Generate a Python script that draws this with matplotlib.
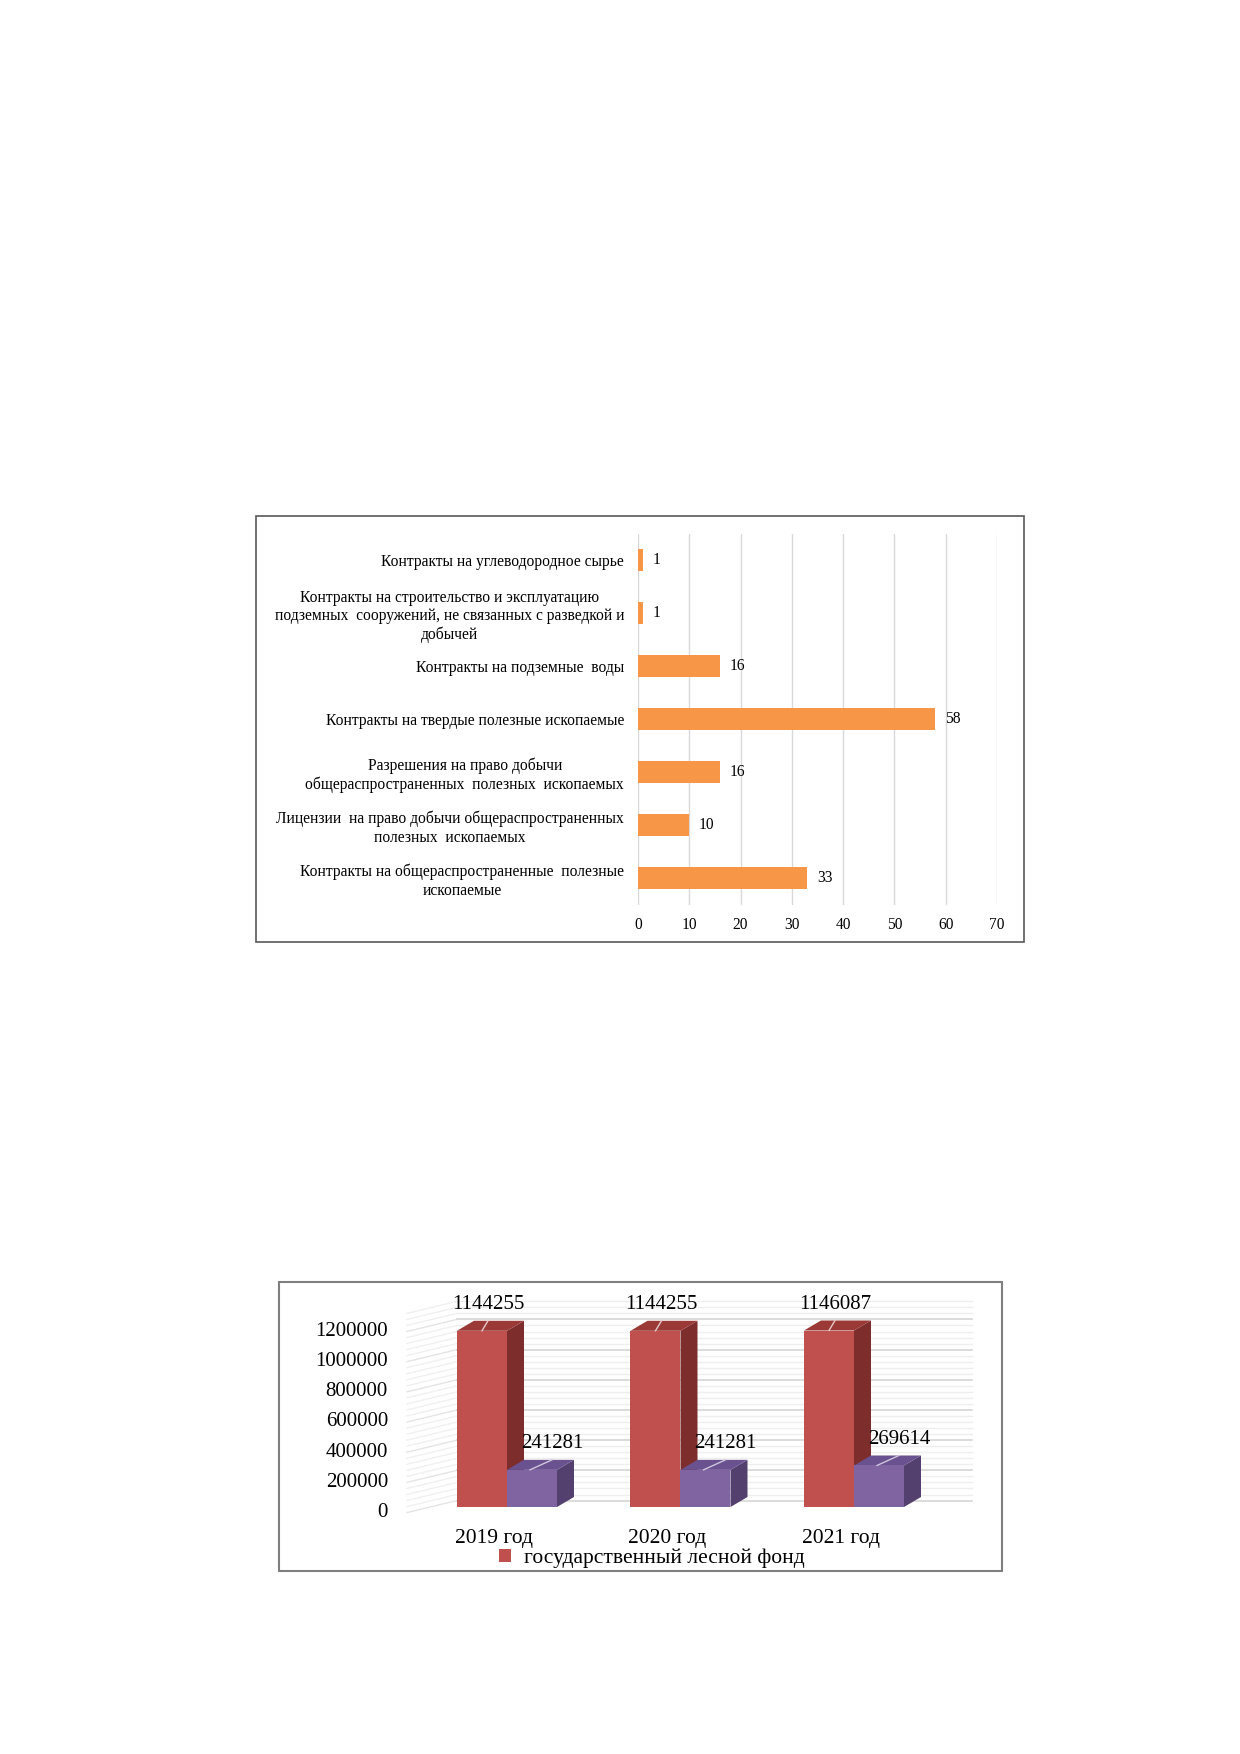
import matplotlib
matplotlib.use("Agg")
import matplotlib.pyplot as plt
from matplotlib.patches import Rectangle, Polygon

plt.rcParams['font.family'] = ['Liberation Serif', 'DejaVu Serif']

# ---------------- data ----------------
cat1 = [
    "Контракты на углеводородное сырье",
    "Контракты на строительство и эксплуатацию\nподземных  сооружений, не связанных с разведкой и\nдобычей",
    "Контракты на подземные  воды",
    "Контракты на твердые полезные ископаемые",
    "Разрешения на право добычи\nобщераспространенных  полезных  ископаемых",
    "Лицензии  на право добычи общераспространенных\nполезных  ископаемых",
    "Контракты на общераспространенные  полезные\nископаемые",
]
vals1 = [1, 1, 16, 58, 16, 10, 33]
xticks1 = [0, 10, 20, 30, 40, 50, 60, 70]

years2 = ["2019 год", "2020 год", "2021 год"]
forest2 = [1144255, 1144255, 1146087]
other2 = [241281, 241281, 269614]
legend2 = "государственный лесной фонд"
yticks2 = [0, 200000, 400000, 600000, 800000, 1000000, 1200000]

# ---------------- figure ----------------
W, H = 1240, 1754
fig = plt.figure(figsize=(W / 100, H / 100), dpi=100)


def fx(x):
    return x / W


def fy(y):
    return 1 - y / H


def box(x0, y0, x1, y1, ec, lw):
    fig.add_artist(Rectangle((fx(x0), fy(y1)), (x1 - x0) / W, (y1 - y0) / H,
                             transform=fig.transFigure, fill=False, ec=ec, lw=lw))


# ---------------- chart 1 ----------------
box(256, 516, 1024, 942, '#595959', 1.2)
ax1 = fig.add_axes([fx(638), fy(904.5), (997 - 638) / W, (904.5 - 533.5) / H])
ypos = list(range(len(cat1)))
ax1.barh(ypos, vals1, height=0.4, color='#F79646', zorder=3)
ax1.set_ylim(len(cat1) - 0.5, -0.5)
ax1.set_xlim(0, 70)
ax1.set_xticks(xticks1)
ax1.set_xticklabels([str(t) for t in xticks1])
ax1.set_yticks(ypos)
ax1.set_yticklabels(cat1)
for lbl in ax1.get_yticklabels():
    lbl.set_multialignment('center')
ax1.tick_params(axis='both', length=0, labelsize=11.2, colors='black')
ax1.tick_params(axis='y', pad=10)
ax1.tick_params(axis='x', pad=9)
ax1.grid(axis='x', color='#d9d9d9', lw=1)
ax1.set_axisbelow(True)
for s in ax1.spines.values():
    s.set_visible(False)
for i, v in enumerate(vals1):
    ax1.annotate(str(v), (v, i), xytext=(7, 0), textcoords='offset points',
                 va='center', ha='left', fontsize=11.2)

# ---------------- chart 2 (pseudo 3D) ----------------
box(279, 1282, 1002, 1571, '#7f7f7f', 1.5)
X0, PXU = 507.0, 173.5      # pixel of category 0, pixels per category
Y0, PXV = 1507.0, 154e-6     # pixel of value 0, pixels per unit


def u(px):
    return (px - X0) / PXU


def vv(py):
    return (Y0 - py) / PXV


ax2 = fig.add_axes([fx(279), fy(1571), (1002 - 279) / W, (1571 - 1282) / H])
ax2.set_xlim(u(279), u(1002))
ax2.set_ylim(vv(1571), vv(1282))
ax2.axis('off')

bw = 50 / PXU
dx = 17 / PXU
dy = 10 / PXV
wall_scale = 0.98
wall_off = -36000
dyw = 12 / PXV
u_wf, u_wb, u_wr = u(407), u(457), u(972)

# walls / gridlines
minor_vals = list(range(0, 1320001, 40000))
for mv in minor_vals:
    major = mv in yticks2
    col = '#d6d6d6' if major else '#eeeeee'
    yv = mv * wall_scale + wall_off
    ax2.plot([u_wf, u_wb], [yv, yv + dyw], color='#e4e4e4' if major else '#f0f0f0',
             lw=1, zorder=1)
    ax2.plot([u_wb, u_wr], [yv + dyw, yv + dyw], color=col, lw=1.2 if major else 1, zorder=1)

for t in yticks2:
    ax2.text(u(388), t * wall_scale + wall_off, str(t), ha='right', va='center',
             fontsize=15)

xi = list(range(len(years2)))
xr = [i - bw / 2 for i in xi]
xp = [i + bw / 2 for i in xi]


def faces(xc, val, top_col, side_col, z):
    x0, x1 = xc - bw / 2, xc + bw / 2
    ax2.add_patch(Polygon([(x1, 0), (x1 + dx, dy), (x1 + dx, val + dy), (x1, val)],
                          closed=True, fc=side_col, ec='none', zorder=z))
    ax2.add_patch(Polygon([(x0, val), (x1, val), (x1 + dx, val + dy), (x0 + dx, val + dy)],
                          closed=True, fc=top_col, ec='none', zorder=z))


for i in xi:
    faces(xr[i], forest2[i], '#9a3936', '#7d2d2b', 3)
red = ax2.bar(xr, forest2, width=bw, color='#C0504D', zorder=4, label=legend2)
for i in xi:
    faces(xp[i], other2[i], '#6a5290', '#54406f', 5)
ax2.bar(xp, other2, width=bw, color='#8064A2', zorder=6)

lab_off = 170000
for i in xi:
    lx = xr[i] + 6 / PXU
    ax2.plot([lx, xr[i]], [forest2[i] + dy, forest2[i]], color='#e6c9c8', lw=1, zorder=7)
    ax2.text(lx, forest2[i] + lab_off, str(forest2[i]), ha='center', va='center',
             fontsize=15, zorder=8)
    lx = xp[i] + 20 / PXU
    ax2.plot([lx, xp[i] - 2 / PXU], [other2[i] + dy, other2[i]], color='#cfc6dc', lw=1, zorder=7)
    ax2.text(lx, other2[i] + lab_off, str(other2[i]), ha='center', va='center',
             fontsize=15, zorder=8)

for i in xi:
    ax2.text(i - 13 / PXU, vv(1538), years2[i], ha='center', va='center', fontsize=15.5)

ax2.legend(handles=[red], loc='center', bbox_to_anchor=(fx(652), fy(1558)),
           bbox_transform=fig.transFigure, frameon=False, fontsize=15.5,
           handlelength=0.55, handleheight=0.55, handletextpad=0.6, borderpad=0)

fig.savefig("out.png", dpi=100, facecolor='white')
